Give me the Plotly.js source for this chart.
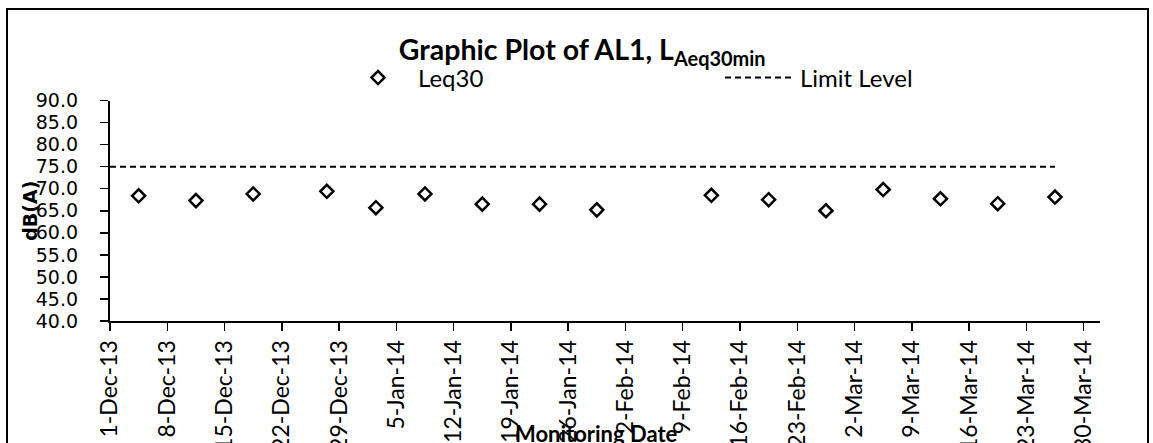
<!DOCTYPE html>
<html>
<head>
<meta charset="utf-8">
<script src="https://cdn.plot.ly/plotly-3.0.1.min.js"></script>
<style>
  html, body { margin: 0; padding: 0; background: #fff; overflow: hidden; }
  #wrap { position: relative; width: 1153px; height: 443px; }
  #chart { width: 1153px; height: 443px; }
  #frame { position: absolute; left: 6px; top: 8px; width: 1139px; height: 470px;
           border: 2px solid #000; pointer-events: none; }
</style>
</head>
<body>
<div id="wrap">
  <div id="chart"></div>
  <div id="frame"></div>
</div>
<script>
// Monitoring dates and measured LAeq30min values (dB(A))
const dates = ['2013-12-04','2013-12-11','2013-12-18','2013-12-27','2014-01-02','2014-01-08',
               '2014-01-15','2014-01-22','2014-01-29','2014-02-12','2014-02-19','2014-02-26',
               '2014-03-05','2014-03-12','2014-03-19','2014-03-26'];
const leq30 = [68.4, 67.3, 68.8, 69.4, 65.7, 68.8, 66.5, 66.5, 65.2,
               68.5, 67.5, 65.0, 69.8, 67.7, 66.6, 68.1];
// Limit level
const limitDates = ['2013-12-01', '2014-03-26'];
const limitLevel = [75, 75];
// Axis settings
const xStart = '2013-12-01';
const xEnd = '2014-04-01';
const yMin = 40, yMax = 90;

// Excel date axis places each day's value mid-day (between tick marks)
const midDay = d => d + ' 12:00';

const traces = [
  {
    x: dates.map(midDay), y: leq30, name: 'Leq30', type: 'scatter', mode: 'markers',
    marker: { symbol: 'diamond-open', size: 10, color: '#000', line: { color: '#000', width: 2.5 } },
    cliponaxis: false
  },
  {
    x: limitDates.map((d, i) => i === 0 ? d : midDay(d)), y: limitLevel, name: 'Limit Level',
    type: 'scatter', mode: 'lines',
    line: { color: '#000', width: 2, dash: '6px,4px' }
  }
];

const layout = {
  width: 1153, height: 443,
  margin: { l: 110, r: 53, t: 97, b: 122 },
  paper_bgcolor: '#fff', plot_bgcolor: '#fff',
  showlegend: true,
  title: {
    text: 'Graphic Plot of AL1, L<sub>Aeq30min</sub>',
    font: { family: 'Lato, sans-serif', size: 28.5, color: '#000', weight: 'bold' },
    xref: 'paper', x: 0.477, xanchor: 'center',
    yref: 'container', y: 1 - 50 / 443, yanchor: 'middle'
  },
  legend: {
    orientation: 'h', xref: 'paper', yref: 'container',
    x: 0.2303, xanchor: 'left', y: 1 - 78 / 443, yanchor: 'middle',
    font: { family: 'Lato, sans-serif', size: 24, color: '#000' },
    itemwidth: 70, entrywidth: 297, entrywidthmode: 'pixels',
    bgcolor: 'rgba(0,0,0,0)'
  },
  xaxis: {
    type: 'date', range: [xStart, xEnd],
    tick0: xStart, dtick: 7 * 24 * 3600 * 1000, tickformat: '%-d-%b-%y',
    tickangle: -90, ticks: 'outside', ticklen: 8, tickwidth: 1.5, tickcolor: '#000',
    showline: true, linecolor: '#000', linewidth: 2, showgrid: false, zeroline: false,
    tickfont: { family: 'Lato, sans-serif', size: 23, color: '#000' },
    fixedrange: true
  },
  yaxis: {
    range: [yMin, yMax], dtick: 5, tickformat: '.1f', ticksuffix: '\u00a0\u00a0\u00a0',
    ticks: 'outside', ticklen: 8, tickwidth: 1.5, tickcolor: '#000',
    showline: true, linecolor: '#000', linewidth: 2, showgrid: false, zeroline: false,
    tickfont: { family: 'DejaVu Sans, sans-serif', size: 19, color: '#000' },
    fixedrange: true
  },
  annotations: [
    {
      text: '<b>dB(A)</b>', xref: 'paper', yref: 'paper', x: 0, y: 0.5,
      xanchor: 'center', yanchor: 'middle', xshift: -80, textangle: -90, showarrow: false,
      font: { family: 'DejaVu Sans, sans-serif', size: 19, color: '#000' }
    },
    {
      text: '<b>Monitoring Date</b>', xref: 'paper', yref: 'paper', x: 0.491, y: 0,
      xanchor: 'center', yanchor: 'middle', yshift: -112, showarrow: false,
      font: { family: 'Lato, sans-serif', size: 22, color: '#000' }
    }
  ]
};

Plotly.newPlot('chart', traces, layout, { displayModeBar: false, staticPlot: true });
</script>
</body>
</html>
